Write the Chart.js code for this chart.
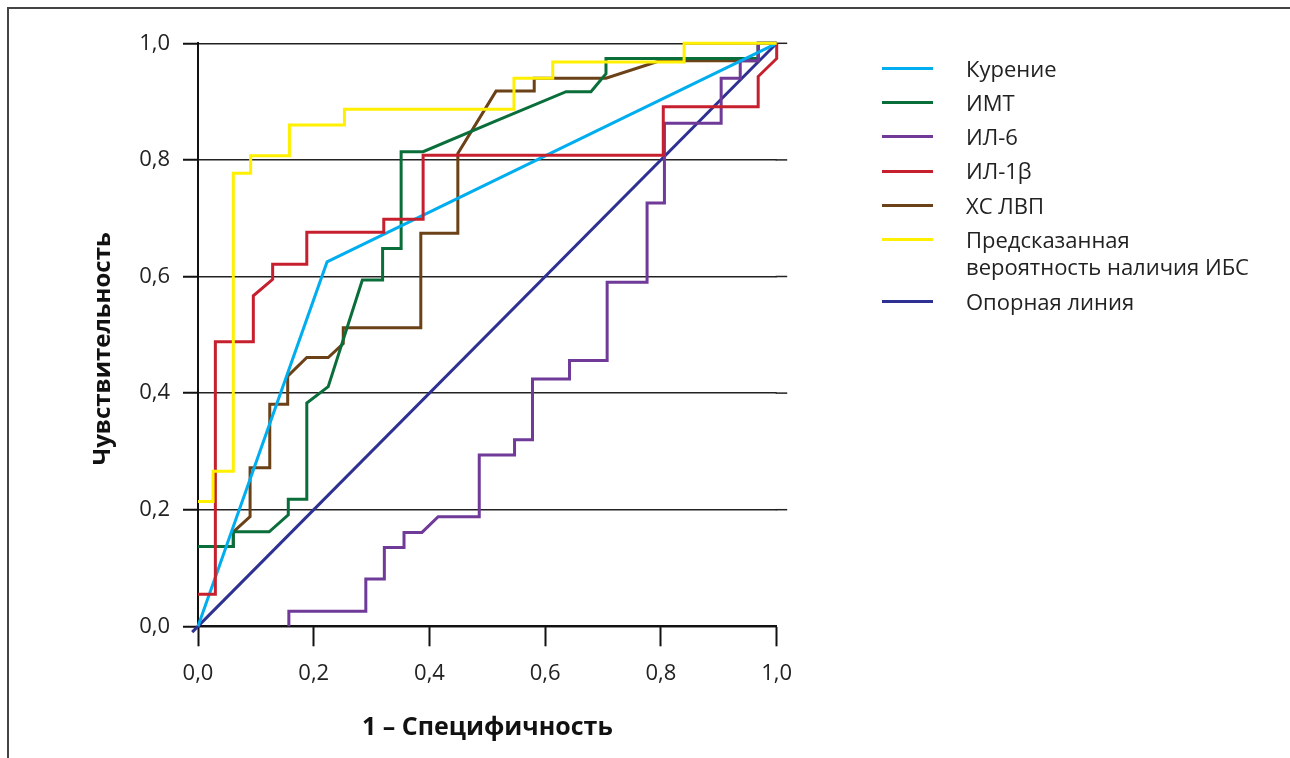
<!DOCTYPE html>
<html><head><meta charset="utf-8">
<script src="https://cdn.jsdelivr.net/npm/chart.js@4.4.1/dist/chart.umd.min.js"></script>
<style>
html,body{margin:0;padding:0;background:#fff;overflow:hidden}
#wrap{position:relative;width:1290px;height:758px;overflow:hidden}
#frame{position:absolute;left:7px;top:7px;width:1400px;height:900px;border-left:2px solid #444;border-top:2px solid #444;box-sizing:border-box}
#c{position:absolute;left:0;top:0}
#legend{position:absolute;left:882px;top:51px;font-family:"Open Sans";font-size:22px;color:#222}
.row{display:flex;align-items:flex-start;padding:3.5px 0}
.sw{width:51px;height:3px;margin-top:12.2px;margin-right:33px;flex:none}
.lbl{line-height:27.3px;white-space:pre-line}
</style></head>
<body>
<div id="wrap">
<div id="frame"></div>
<canvas id="c" width="1290" height="758"></canvas>
<div id="legend"></div>
</div>
<script>
// ---- data ----
const xTickVals = [0, 0.2, 0.4, 0.6, 0.8, 1.0];
const xTickLabels = ['0,0','0,2','0,4','0,6','0,8','1,0'];
const yTickVals = [0, 0.2, 0.4, 0.6, 0.8, 1.0];
const yTickLabels = ['0,0','0,2','0,4','0,6','0,8','1,0'];

const seriesNames = ['Курение','ИМТ','ИЛ-6','ИЛ-1β','ХС ЛВП','Предсказанная\nвероятность наличия ИБС','Опорная линия'];
const seriesColors = ['#00AEEF','#0A6E3A','#6F3A98','#C6202F','#6B4117','#FFF000','#2E3192'];

const smokingX = [0, 0.223, 1];
const smokingY = [0, 0.625, 1];

const imtX = [0, 0.061, 0.061, 0.123, 0.156, 0.156, 0.188, 0.188, 0.225, 0.284, 0.319, 0.319, 0.351, 0.351, 0.389, 0.515, 0.636, 0.679, 0.705, 0.705, 0.968, 0.968, 1.0];
const imtY = [0.137, 0.137, 0.162, 0.162, 0.191, 0.218, 0.218, 0.383, 0.411, 0.594, 0.594, 0.648, 0.648, 0.814, 0.814, 0.867, 0.917, 0.917, 0.948, 0.974, 0.974, 1.0, 1.0];

const il6X = [0.157, 0.157, 0.290, 0.290, 0.322, 0.322, 0.356, 0.356, 0.387, 0.415, 0.486, 0.486, 0.547, 0.547, 0.578, 0.578, 0.642, 0.642, 0.707, 0.707, 0.776, 0.776, 0.806, 0.806, 0.904, 0.904, 0.937, 0.937, 0.968, 0.968, 1.0];
const il6Y = [0, 0.026, 0.026, 0.081, 0.081, 0.135, 0.135, 0.161, 0.161, 0.188, 0.188, 0.294, 0.294, 0.320, 0.320, 0.424, 0.424, 0.456, 0.456, 0.590, 0.590, 0.726, 0.726, 0.863, 0.863, 0.940, 0.940, 0.970, 0.970, 1.0, 1.0];

const il1bX = [0, 0.030, 0.030, 0.0956, 0.0956, 0.129, 0.129, 0.188, 0.188, 0.321, 0.321, 0.389, 0.389, 0.804, 0.804, 0.968, 0.968, 1.0, 1.0];
const il1bY = [0.055, 0.055, 0.488, 0.488, 0.567, 0.595, 0.621, 0.621, 0.676, 0.676, 0.698, 0.698, 0.808, 0.808, 0.891, 0.891, 0.943, 0.974, 1.0];

const hdlX = [0, 0.061, 0.061, 0.090, 0.090, 0.124, 0.124, 0.155, 0.155, 0.188, 0.225, 0.251, 0.251, 0.385, 0.385, 0.449, 0.449, 0.515, 0.581, 0.581, 0.705, 0.798, 0.968, 0.968, 1.0];
const hdlY = [0.137, 0.137, 0.162, 0.188, 0.272, 0.272, 0.381, 0.381, 0.429, 0.461, 0.461, 0.485, 0.512, 0.512, 0.674, 0.674, 0.811, 0.918, 0.918, 0.940, 0.940, 0.970, 0.970, 1.0, 1.0];

const predX = [0, 0.026, 0.026, 0.061, 0.061, 0.091, 0.091, 0.158, 0.158, 0.253, 0.253, 0.546, 0.546, 0.613, 0.613, 0.840, 0.840, 1.0];
const predY = [0.214, 0.214, 0.266, 0.266, 0.777, 0.777, 0.807, 0.807, 0.860, 0.860, 0.887, 0.887, 0.940, 0.940, 0.968, 0.968, 1.0, 1.0];

const refX = [-0.01, 1.0];
const refY = [-0.01, 1.0];

// ---- build ----
const seriesX = [smokingX, imtX, il6X, il1bX, hdlX, predX, refX];
const seriesY = [smokingY, imtY, il6Y, il1bY, hdlY, predY, refY];
const drawOrder = [5, 3, 0, 2, 1, 4, 6]; // first = on top

const datasets = drawOrder.map(i => ({
  label: seriesNames[i],
  data: seriesX[i].map((x, k) => ({x: x, y: seriesY[i][k]})),
  borderColor: seriesColors[i],
  backgroundColor: seriesColors[i],
  borderWidth: 3,
  pointRadius: 0,
  showLine: true,
  fill: false,
  tension: 0,
  borderJoinStyle: 'miter',
  borderCapStyle: 'butt',
  clip: false
}));

// legend (HTML)
const leg = document.getElementById('legend');
seriesNames.forEach((n, i) => {
  const r = document.createElement('div'); r.className = 'row';
  const s = document.createElement('div'); s.className = 'sw'; s.style.background = seriesColors[i];
  const t = document.createElement('div'); t.className = 'lbl'; t.textContent = n;
  r.appendChild(s); r.appendChild(t); leg.appendChild(r);
});

const FONT = 'Open Sans';

const extras = {
  id: 'extras',
  beforeDatasetsDraw(chart) {
    const {ctx, chartArea} = chart;
    const ys = chart.scales.y;
    ctx.save();
    ctx.strokeStyle = '#222';
    ctx.lineWidth = 1.5;
    yTickVals.forEach(v => {
      if (v === 0) return;
      const py = ys.getPixelForValue(v);
      ctx.beginPath();
      ctx.moveTo(chartArea.right - 1, py);
      ctx.lineTo(chartArea.right + 10.5, py);
      ctx.stroke();
    });
    ctx.restore();
  },
  afterDraw(chart) {
    const {ctx, chartArea} = chart;
    ctx.save();
    ctx.translate(103, (chartArea.top + chartArea.bottom) / 2 + 14);
    ctx.rotate(-Math.PI / 2);
    ctx.font = 'bold 24px "' + FONT + '"';
    ctx.fillStyle = '#111';
    ctx.textAlign = 'center';
    ctx.textBaseline = 'middle';
    ctx.fillText('Чувствительность', 0, 0);
    ctx.restore();
  }
};

new Chart(document.getElementById('c'), {
  type: 'scatter',
  data: {datasets},
  plugins: [extras],
  options: {
    responsive: false,
    animation: false,
    events: [],
    layout: {padding: {left: 0, right: 513.3, top: 43.3, bottom: 0}},
    plugins: {legend: {display: false}, tooltip: {enabled: false}},
    scales: {
      x: {
        type: 'linear', min: 0, max: 1,
        afterBuildTicks: s => { s.ticks = xTickVals.map(v => ({value: v})); },
        afterFit: s => { s.height = 131.7; },
        ticks: {callback: (v, i) => xTickLabels[i], font: {family: FONT, size: 22}, color: '#222', padding: 14, maxRotation: 0, autoSkip: false},
        grid: {display: true, drawOnChartArea: false, drawTicks: true, tickLength: 20, tickColor: '#111', tickWidth: 2},
        border: {display: true, color: '#111', width: 2},
        title: {display: true, text: '1 – Специфичность', font: {family: FONT, size: 25, weight: 'bold'}, color: '#111', padding: {top: 0, bottom: 15}}
      },
      y: {
        type: 'linear', min: 0, max: 1,
        afterBuildTicks: s => { s.ticks = yTickVals.map(v => ({value: v})); },
        afterFit: s => { s.width = 198; },
        ticks: {callback: (v, i) => yTickLabels[i], font: {family: FONT, size: 22}, color: '#222', padding: 13, autoSkip: false},
        grid: {display: true, drawOnChartArea: true, drawTicks: true, tickLength: 15, color: '#222', lineWidth: 1.5, tickColor: '#111', tickWidth: 2},
        border: {display: true, color: '#111', width: 2}
      }
    }
  }
});
</script>
</body></html>
